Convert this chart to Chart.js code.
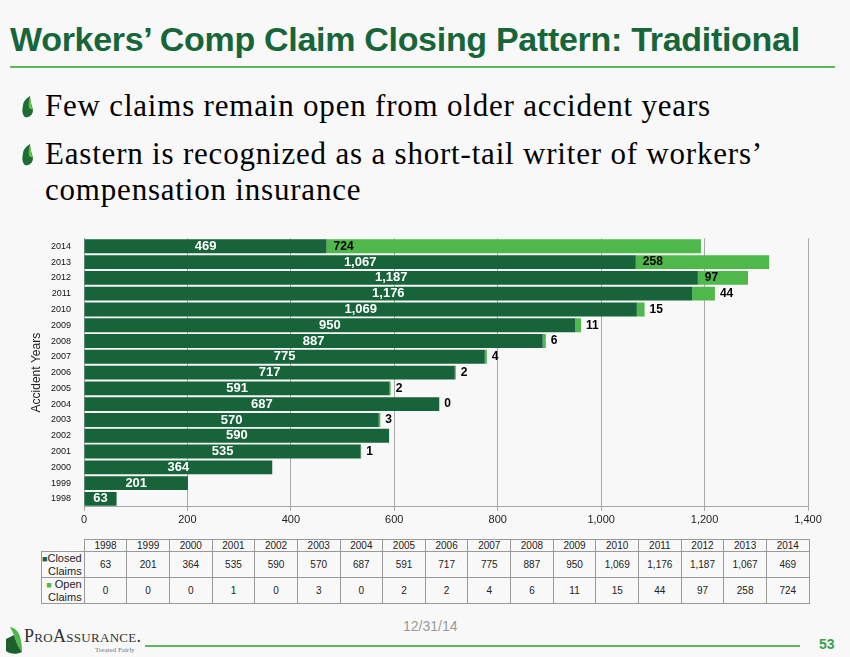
<!DOCTYPE html>
<html>
<head>
<meta charset="utf-8">
<script src="https://cdn.jsdelivr.net/npm/chart.js@4.4.1/dist/chart.umd.min.js"></script>
<style>
  html, body { margin: 0; padding: 0; }
  body { width: 850px; height: 657px; background: #f8f8f8; position: relative; overflow: hidden; font-family: "Liberation Sans", Arial, sans-serif; }
  #title { position: absolute; left: 10px; top: 20px; font-size: 34px; font-weight: bold; color: #17663a; white-space: nowrap; letter-spacing: -0.3px; }
  #titleLine { position: absolute; left: 10px; top: 66px; width: 825px; height: 2px; background: #5cb85c; }
  .bullet { position: absolute; left: 45px; font-family: "Liberation Serif", "Times New Roman", serif; font-size: 31px; color: #000; line-height: 36px; white-space: nowrap; letter-spacing: 0.8px; }
  .leaf { position: absolute; left: 20px; width: 16px; height: 22px; }
  #chartBox { position: absolute; left: 0; top: 228px; width: 850px; height: 302px; }
  #dataTable { position: absolute; left: 41px; top: 539px; border-collapse: collapse; font-size: 10px; color: #222; }
  #dataTable td { border: 1px solid #999; text-align: center; padding: 0; }
  #dataTable td.blank { border: none; }
  #dataTable td.rowHead { text-align: right; padding-right: 2px; line-height: 12px; font-size: 11px; }
  #date { position: absolute; left: 403px; top: 618px; font-size: 14px; color: #9a9a9a; }
  #footLine { position: absolute; left: 145px; top: 645px; width: 655px; height: 2px; background: #5cb85c; }
  #page { position: absolute; left: 819px; top: 636px; font-size: 14px; font-weight: bold; color: #3aa04a; }
  #logoText { position: absolute; left: 24px; top: 626px; font-family: "Liberation Serif", serif; font-size: 18px; color: #333; font-variant: small-caps; letter-spacing: 0.3px; }
  #logoSub { position: absolute; left: 95px; top: 646px; font-family: "Liberation Serif", serif; font-size: 7px; color: #777; }
</style>
</head>
<body>
<div id="title">Workers’ Comp Claim Closing Pattern: Traditional</div>
<div id="titleLine"></div>

<svg class="leaf" style="top:96px" viewBox="0 0 16 22"><path d="M3 10 C3 5 7 2 10 0 C10 6 12 10 13 14 C13 19 9 22 5 21 C2 19 2 13 3 10 Z" fill="#1e6b33"/><path d="M10 0 C10 6 12 10 13 14 L9 12 C8 8 9 4 10 0 Z" fill="#5fbf4a"/></svg>
<div class="bullet" style="top:88px">Few claims remain open from older accident years</div>
<svg class="leaf" style="top:144px" viewBox="0 0 16 22"><path d="M3 10 C3 5 7 2 10 0 C10 6 12 10 13 14 C13 19 9 22 5 21 C2 19 2 13 3 10 Z" fill="#1e6b33"/><path d="M10 0 C10 6 12 10 13 14 L9 12 C8 8 9 4 10 0 Z" fill="#5fbf4a"/></svg>
<div class="bullet" style="top:136px">Eastern is recognized as a short-tail writer of workers’<br>compensation insurance</div>

<div id="chartBox"><canvas id="claimsChart"></canvas></div>

<table id="dataTable"><tbody id="tableBody"></tbody></table>

<svg style="position:absolute;left:4px;top:625px" width="22" height="30" viewBox="0 0 22 30"><path d="M2 14 L10 10 C12 16 14 22 18 27 C12 30 6 29 2 26 Z" fill="#1e5e2f"/><path d="M6 2 C12 3 16 8 17 16 C18 21 18 24 18 27 C14 22 12 16 10 10 Z" fill="#4cb84a"/></svg>
<div id="logoText">ProAssurance.</div>
<div id="logoSub">Treated Fairly</div>
<div id="date">12/31/14</div>
<div id="footLine"></div>
<div id="page">53</div>

<script>
// Accident years, bottom to top as on the slide
const years = ['1998', '1999', '2000', '2001', '2002', '2003', '2004', '2005', '2006',
               '2007', '2008', '2009', '2010', '2011', '2012', '2013', '2014'];
const closedClaims = [63, 201, 364, 535, 590, 570, 687, 591, 717, 775, 887, 950, 1069, 1176, 1187, 1067, 469];
const openClaims = [0, 0, 0, 1, 0, 3, 0, 2, 2, 4, 6, 11, 15, 44, 97, 258, 724];
// which open-claim values get a label on the bars
const showOpenLabel = [false, false, false, true, false, true, true, true, true, true, true, true, true, true, true, true, true];
const xTicks = [0, 200, 400, 600, 800, 1000, 1200, 1400];

const closedColor = '#17643a';
const openColor = '#4fb84a';

function fmt(n) {
    return n.toLocaleString('en-US');
}

// Build the data table under the chart
function buildTable() {
    const body = document.getElementById('tableBody');
    const colW = 725 / years.length;

    let head = '<tr style="height:10px"><td class="blank" style="width:42px"></td>';
    years.forEach(y => { head += `<td style="width:${colW - 1}px">${y}</td>`; });
    head += '</tr>';

    let closedRow = '<tr style="height:26px"><td class="rowHead"><span style="color:' + closedColor + ';font-size:9px">■</span>Closed<br>Claims</td>';
    closedClaims.forEach(v => { closedRow += `<td>${fmt(v)}</td>`; });
    closedRow += '</tr>';

    let openRow = '<tr style="height:25px"><td class="rowHead"><span style="color:' + openColor + ';font-size:9px">■</span> Open<br>Claims</td>';
    openClaims.forEach(v => { openRow += `<td>${fmt(v)}</td>`; });
    openRow += '</tr>';

    body.innerHTML = head + closedRow + openRow;
}

// Value labels drawn on top of the bars
const barLabels = {
    id: 'barLabels',
    afterDatasetsDraw(chart) {
        const ctx = chart.ctx;
        const closedMeta = chart.getDatasetMeta(0);
        const openMeta = chart.getDatasetMeta(1);
        ctx.save();
        ctx.textBaseline = 'middle';

        closedMeta.data.forEach((bar, i) => {
            ctx.font = 'bold 13px "Liberation Sans", Arial, sans-serif';
            ctx.fillStyle = '#ffffff';
            ctx.textAlign = 'center';
            ctx.fillText(fmt(closedClaims[i]), (bar.base + bar.x) / 2, bar.y);
        });

        openMeta.data.forEach((bar, i) => {
            if (!showOpenLabel[i]) return;
            const txt = fmt(openClaims[i]);
            ctx.font = 'bold 12px "Liberation Sans", Arial, sans-serif';
            ctx.fillStyle = '#000000';
            ctx.textAlign = 'left';
            const w = ctx.measureText(txt).width;
            const segW = bar.x - bar.base;
            const x = segW > w + 10 ? bar.base + 7 : bar.x + 5;
            ctx.fillText(txt, x, bar.y);
        });
        ctx.restore();
    }
};

function drawChart() {
    const ctx = document.getElementById('claimsChart').getContext('2d');
    new Chart(ctx, {
        type: 'bar',
        data: {
            labels: years,
            datasets: [
                {
                    label: 'Closed Claims',
                    data: closedClaims,
                    backgroundColor: closedColor,
                    barPercentage: 0.88,
                    categoryPercentage: 1.0
                },
                {
                    label: 'Open Claims',
                    data: openClaims,
                    backgroundColor: openColor,
                    barPercentage: 0.88,
                    categoryPercentage: 1.0
                }
            ]
        },
        options: {
            indexAxis: 'y',
            responsive: true,
            maintainAspectRatio: false,
            animation: false,
            layout: { padding: { top: 7, right: 42, bottom: 0, left: 29 } },
            plugins: {
                legend: { display: false },
                tooltip: { enabled: false }
            },
            scales: {
                x: {
                    stacked: true,
                    min: 0,
                    max: 1400,
                    afterBuildTicks: axis => { axis.ticks = xTicks.map(v => ({ value: v })); },
                    ticks: {
                        color: '#222',
                        font: { size: 11, family: '"Liberation Sans", Arial' },
                        callback: v => fmt(v),
                        padding: 3
                    },
                    grid: { color: '#a8a8a8', lineWidth: 1, tickLength: 4 },
                    border: { color: '#a8a8a8' }
                },
                y: {
                    stacked: true,
                    reverse: true,
                    afterFit: axis => { axis.width = 55; },
                    ticks: {
                        color: '#111',
                        font: { size: 9, family: '"Liberation Sans", Arial' },
                        padding: 5
                    },
                    grid: { display: false, drawOnChartArea: false },
                    border: { color: '#a8a8a8' },
                    title: {
                        display: true,
                        text: 'Accident Years',
                        color: '#222',
                        font: { size: 12, family: '"Liberation Sans", Arial' },
                        padding: { top: 0, bottom: 4 }
                    }
                }
            }
        },
        plugins: [barLabels]
    });
}

buildTable();
drawChart();
</script>
</body>
</html>
